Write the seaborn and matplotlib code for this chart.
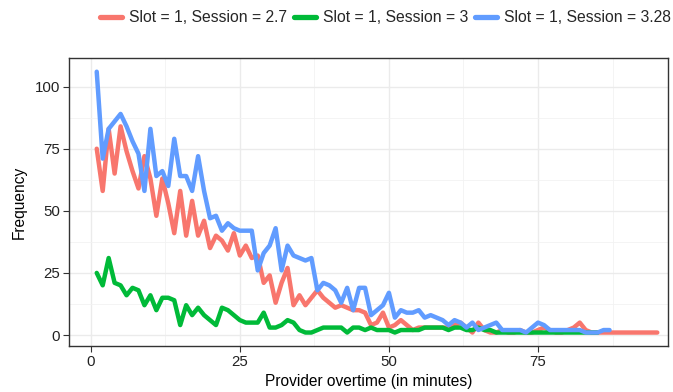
import numpy as np
import pandas as pd
import matplotlib
matplotlib.use("Agg")
import matplotlib.pyplot as plt
import seaborn as sns
from matplotlib.ticker import MultipleLocator
from matplotlib.lines import Line2D

# ---- data ----
red_vals = [75, 58, 83, 65, 84, 74, 66, 59, 72, 63, 48, 63, 53, 41, 58, 40, 54, 40, 46, 35,
            40, 38, 34, 41, 32, 36, 31, 32, 21, 24, 13, 21, 27, 12, 16, 12, 15, 18, 15, 13,
            11, 12, 11, 10, 10, 9, 4, 5, 9, 3, 4, 6, 4, 2, 3, 3, 3, 3, 3, 3,
            4, 5, 3, 1, 5, 2, 1, 1, 2, 1, 1, 2, 1, 1, 2, 3, 2, 1, 1, 2,
            3, 5, 2, 1, 1, 1, 1, 1, 1, 1, 1, 1, 1, 1, 1]
green_vals = [25, 20, 31, 21, 20, 16, 19, 18, 12, 16, 10, 15, 15, 14, 4, 12, 8, 11, 8, 6,
              4, 11, 10, 8, 6, 5, 5, 5, 9, 3, 3, 4, 6, 5, 2, 1, 1, 2, 3, 3,
              3, 3, 1, 3, 3, 2, 3, 2, 2, 2, 1, 2, 2, 2, 2, 3, 3, 3, 3, 2,
              3, 3, 2, 2, 3, 2, 2, 1, 1, 1, 1, 1, 1, 1, 1, 1, 1, 1, 1, 1,
              1, 1, 1, 1, 1]
blue_vals = [106, 71, 83, 86, 89, 84, 78, 73, 58, 83, 64, 66, 60, 79, 64, 64, 58, 72, 58, 47,
             48, 42, 45, 43, 42, 42, 42, 26, 33, 36, 43, 26, 36, 32, 31, 30, 31, 18, 21, 20,
             18, 13, 19, 10, 19, 19, 8, 10, 12, 17, 7, 10, 9, 9, 10, 7, 8, 7, 6, 4,
             6, 5, 3, 5, 2, 3, 4, 5, 2, 2, 2, 2, 1, 3, 5, 4, 2, 2, 2, 2,
             2, 2, 1, 1, 1, 2, 2]
series_names = ["Slot = 1, Session = 2.7", "Slot = 1, Session = 3", "Slot = 1, Session = 3.28"]
series_colors = ["#F8766D", "#00BA38", "#619CFF"]

frames = []
for name, vals in zip(series_names, [red_vals, green_vals, blue_vals]):
    frames.append(pd.DataFrame({"minutes": np.arange(1, len(vals) + 1),
                                "freq": vals, "series": name}))
df = pd.concat(frames, ignore_index=True)

sns.set_theme(style="white")
plt.rcParams["font.family"] = ["Liberation Sans", "DejaVu Sans"]

fig = plt.figure(figsize=(6.73, 3.92), dpi=100)
ax = fig.add_axes([69.3 / 673, 1 - 345.7 / 392, (668 - 69.3) / 673, (345.7 - 58.3) / 392])

sns.lineplot(data=df, x="minutes", y="freq", hue="series", hue_order=series_names,
             palette=series_colors, linewidth=3.2, ax=ax, legend=False)

ax.set_xlim(-3.6, 96.8)
ax.set_ylim(-4.3, 111.4)
ax.xaxis.set_major_locator(MultipleLocator(25))
ax.xaxis.set_minor_locator(MultipleLocator(12.5))
ax.yaxis.set_major_locator(MultipleLocator(25))
ax.yaxis.set_minor_locator(MultipleLocator(12.5))
ax.grid(True, which="major", color="#EBEBEB", linewidth=1.0, zorder=0)
ax.grid(True, which="minor", color="#F2F2F2", linewidth=0.6, zorder=0)
ax.set_axisbelow(True)
for s in ax.spines.values():
    s.set_color("#333333")
    s.set_linewidth(1.0)
ax.tick_params(axis="both", which="major", length=4, width=0.8, color="#333333",
               labelsize=10.8, labelcolor="#222222", pad=2.5, bottom=True, left=True)
ax.tick_params(axis="both", which="minor", length=0)
ax.set_xlabel("Provider overtime (in minutes)", fontsize=11.2, color="black", labelpad=4)
ax.set_ylabel("Frequency", fontsize=11.2, color="black", labelpad=6)

handles = [Line2D([0], [0], color=c, linewidth=3.8) for c in series_colors]
fig.legend(handles, series_names, loc="center right", bbox_to_anchor=(0.997, 1 - 18 / 392),
           ncol=3, frameon=False, fontsize=11.3, handlelength=1.4, handletextpad=0.43,
           columnspacing=0.45, borderaxespad=0, borderpad=0)

fig.savefig("out.png", dpi=100)
